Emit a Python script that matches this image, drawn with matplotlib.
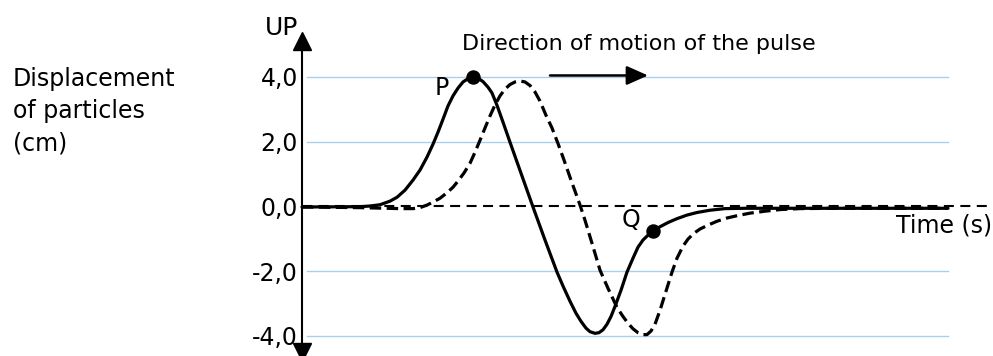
import matplotlib
matplotlib.use("Agg")
import matplotlib.pyplot as plt

# ---- data (time in arbitrary units, displacement in cm) ----
t_solid = [0, 5.8, 6.8, 7.8, 8.8, 9.5, 10.3, 11.1, 11.8, 12.5, 13.1, 13.6, 14.1, 14.6,
           15.1, 15.6, 16.1, 16.6, 17.1, 17.6, 18.1, 18.6, 19.0, 19.5, 20.1, 20.8,
           23.1, 24.3, 25.5, 26.1, 26.8, 27.4, 27.9, 28.4, 28.8, 29.3, 29.7, 30.1,
           30.5, 30.9, 31.3, 31.9, 32.5, 33.1, 33.6, 34.1, 34.6, 35.1, 35.8, 36.6,
           37.5, 38.5, 39.5, 40.8, 42.3, 44.3, 49.8, 64.6]
y_solid = [-0.02, -0.01, 0.01, 0.05, 0.16, 0.28, 0.50, 0.81, 1.12, 1.52, 1.92, 2.29, 2.69, 3.10,
           3.41, 3.65, 3.84, 3.94, 4.0, 3.96, 3.85, 3.68, 3.50, 3.12, 2.60, 1.98,
           -0.02, -1.04, -2.03, -2.46, -2.93, -3.30, -3.55, -3.76, -3.87, -3.92, -3.90, -3.81,
           -3.64, -3.40, -3.09, -2.59, -2.03, -1.60, -1.26, -1.04, -0.89, -0.77, -0.63, -0.50,
           -0.38, -0.27, -0.19, -0.12, -0.07, -0.06, -0.06, -0.06]

t_dashed = [0, 5.8, 9.8, 11.1, 11.8, 12.5, 13.1, 13.8, 14.5, 15.1, 15.6, 16.2, 16.8, 17.3,
            17.8, 18.3, 18.8, 19.3, 19.8, 20.3, 20.8, 21.3, 21.8, 22.3, 22.8, 23.3,
            23.8, 24.4, 25.0, 25.6, 26.2, 26.8, 27.3, 27.8, 28.3, 29.0, 29.8, 30.6,
            31.5, 32.1, 32.6, 33.1, 33.6, 34.1, 34.5, 34.9, 35.3, 35.8, 36.4, 37.0,
            37.5, 38.1, 38.6, 39.2, 39.8, 40.6, 41.5, 42.5, 43.5, 44.8, 46.3, 47.8,
            49.8, 52.8, 64.6]
y_dashed = [-0.02, -0.04, -0.07, -0.07, -0.04, 0.04, 0.13, 0.25, 0.42, 0.59, 0.78, 1.03, 1.33, 1.67,
            2.04, 2.42, 2.79, 3.13, 3.41, 3.62, 3.76, 3.84, 3.87, 3.84, 3.73, 3.53,
            3.25, 2.81, 2.42, 1.94, 1.43, 0.90, 0.47, 0.04, -0.43, -1.14, -1.97, -2.53,
            -3.12, -3.40, -3.61, -3.78, -3.90, -3.96, -3.96, -3.85, -3.64, -3.21, -2.62, -2.03,
            -1.60, -1.23, -1.01, -0.83, -0.70, -0.58, -0.46, -0.36, -0.29, -0.21, -0.15, -0.10,
            -0.07, -0.06, -0.06]

point_P = (17.1, 4.0)
point_Q = (35.1, -0.77)

y_ticks = [-4, -2, 0, 2, 4]
y_tick_labels = ["-4,0", "-2,0", "0,0", "2,0", "4,0"]
grid_levels = [-4, -2, 2, 4]

# ---- figure ----
W, H = 993, 356
fig = plt.figure(figsize=(W / 100, H / 100), dpi=100)
ax = fig.add_axes([0, 0, 1, 1])
ax.set_xlim(-30.2, 69.1)
ax.set_ylim(-4.62, 6.37)

FONT = "DejaVu Sans"

# grid lines
for g in grid_levels:
    ax.plot([0.5, 64.6], [g, g], color="#a9cfef", lw=1.0, zorder=1)

# time axis (dashed)
ax.plot([0, 69.1], [0, 0], color="black", lw=1.5, dashes=(4.8, 3.1), zorder=2)

# curves
ax.plot(t_solid, y_solid, color="black", lw=2.3, solid_capstyle="round",
        solid_joinstyle="round", zorder=3)
ax.plot(t_dashed, y_dashed, color="black", lw=2.3, dashes=(3.6, 1.7),
        dash_joinstyle="round", zorder=3)

# points P and Q
ax.plot(*point_P, "o", color="black", ms=9.4, zorder=4)
ax.plot(*point_Q, "o", color="black", ms=9.4, zorder=4)

# y axis as left spine with arrows
for s in ["top", "right", "bottom"]:
    ax.spines[s].set_visible(False)
ax.spines["left"].set_position(("data", 0))
ax.spines["left"].set_linewidth(1.5)
ax.spines["left"].set_bounds(-4.75, 4.85)
ax.set_xticks([])
ax.set_yticks(y_ticks)
ax.set_yticklabels(y_tick_labels, fontsize=17, family=FONT)
ax.tick_params(axis="y", length=0, pad=3)
ax.plot(0, 5.1, marker="^", color="black", ms=13, clip_on=False, zorder=5)
ax.plot(0, -4.5, marker="v", color="black", ms=13, clip_on=False, zorder=5)

# direction arrow
ax.annotate("", xy=(34.6, 4.04), xytext=(24.8, 4.04),
            arrowprops=dict(arrowstyle="-|>,head_length=0.65,head_width=0.29",
                            mutation_scale=20, lw=1.8, color="black",
                            shrinkA=0, shrinkB=0), zorder=5)


def ftext(px, py, s, size, ha="left", va="baseline"):
    fig.text(px / W, 1 - py / H, s, fontsize=size, family=FONT, ha=ha, va=va,
             color="black")


ftext(298, 35, "UP", 18, ha="right")
ftext(13, 86, "Displacement", 17)
ftext(13, 118, "of particles", 17)
ftext(13, 150, "(cm)", 17)
ftext(462, 50, "Direction of motion of the pulse", 16)
ftext(435, 95, "P", 17)
ftext(622, 227, "Q", 17)
ftext(992, 232, "Time (s)", 17, ha="right")

fig.savefig("out.png", dpi=100)
